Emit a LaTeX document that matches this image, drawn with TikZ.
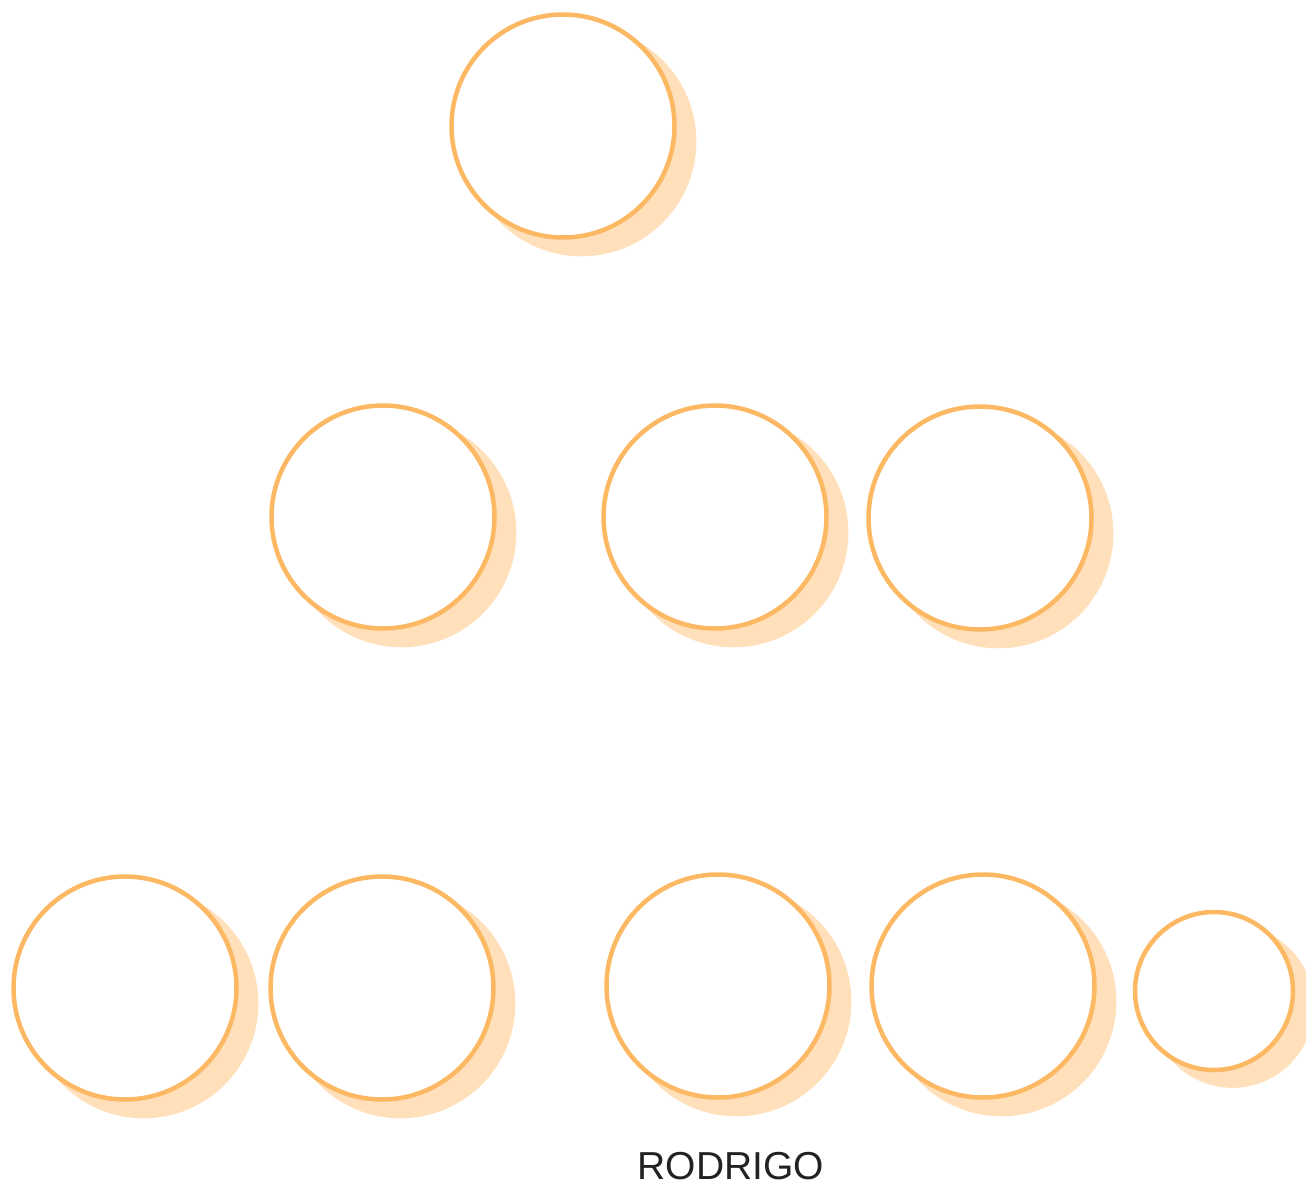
\documentclass[tikz,border=0pt]{standalone}
\usepackage{fontspec}
\setmainfont{Liberation Sans}
\usetikzlibrary{shadows}
\definecolor{ringc}{RGB}{253,184,99}
\definecolor{shadc}{RGB}{255,224,186}
\definecolor{txtc}{RGB}{34,34,34}
\begin{document}
\begin{tikzpicture}[x=1pt,y=-1pt,
  bub/.style={circle, draw=ringc, line width=4.5pt, fill=white, inner sep=0pt, outer sep=0pt,
    minimum size=223pt,
    drop shadow={shadow xshift=18pt, shadow yshift=-15pt, shadow scale=1.03, fill=shadc, opacity=1}},
  smallbub/.style={bub, minimum size=158pt},
  lbl/.style={text=txtc, font=\fontsize{39}{46}\selectfont, inner sep=0pt}]
\useasboundingbox (0,0) rectangle (1306,1186);
\node[bub] (top) at (563,126) {};
\node[bub] (m1) at (383,517) {};
\node[bub] (m2) at (715,517) {};
\node[bub] (m3) at (980,518) {};
\node[bub] (b1) at (125,988) {};
\node[bub] (b2) at (382,988) {};
\node[bub] (b3) at (718,986) {};
\node[bub] (b4) at (983,986) {};
\node[smallbub] (b5) at (1214,991) {};
\node[lbl] (name) at (731,1166) {RODRIGO};
\end{tikzpicture}
\end{document}
